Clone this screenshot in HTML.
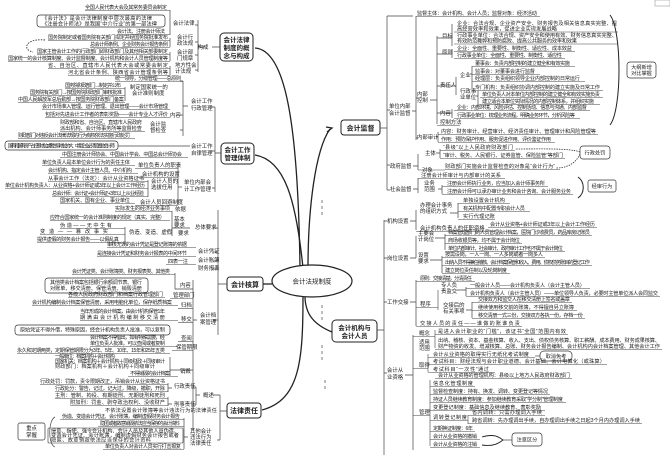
<!DOCTYPE html>
<html><head><meta charset="utf-8"><style>
html,body{margin:0;padding:0;background:#fff}
svg{display:block}
text{font-family:"Liberation Sans","Noto Sans CJK SC",sans-serif;fill:#222}
.t{font-size:5.2px}
.l{font-size:5.4px}
.b{font-size:7.5px;font-weight:bold}
.u{stroke:#444;stroke-width:0.6;fill:none}
.k{stroke:#222;stroke-width:1.3;fill:none}
.s{stroke:#444;stroke-width:0.7;fill:none}
</style></head><body>
<svg width="670" height="460" viewBox="0 0 670 460" xmlns="http://www.w3.org/2000/svg">
<rect x="0" y="0" width="670" height="460" fill="#fff"/>
<!-- main curves -->
<path class="k" d="M255 48 C285 50 298 120 300 268"/>
<path class="k" d="M255 155 C285 160 296 200 303 268"/>
<path class="k" d="M308 268 C308 210 315 150 330 129"/>
<path class="k" d="M326 127 L332 128 L327 132"/>
<path class="k" d="M263 284 L272 284"/>
<path class="k" d="M303 296 C303 360 300 400 262 410"/>
<path class="k" d="M305 296 C305 315 315 325 332 332"/>
<path class="s" d="M322 200 L322 215 M322 305 L322 320 M322 345 L322 360 M325 380 L325 392" stroke-dasharray="3 3"/>
<!-- center ellipse -->
<ellipse cx="312" cy="281" rx="40" ry="16" fill="#fff" stroke="#222" stroke-width="1.2"/>
<text class="l" x="312" y="283.5" text-anchor="middle" style="font-size:6.5px">会计法规制度</text>
<!-- main nodes -->
<g fill="#fff" stroke="#222" stroke-width="1">
<rect x="220" y="33" width="33" height="28" rx="4"/>
<rect x="221" y="143" width="33" height="21" rx="4"/>
<rect x="227" y="277" width="36" height="14" rx="3"/>
<rect x="227" y="403" width="34" height="15" rx="3"/>
<rect x="341" y="120" width="39" height="15" rx="3"/>
<rect x="332" y="320" width="45" height="22" rx="4"/>
</g>
<text class="b" x="236.5" y="42" text-anchor="middle" style="font-size:6.5px">会计法律</text>
<text class="b" x="236.5" y="50" text-anchor="middle" style="font-size:6.5px">制度的概</text>
<text class="b" x="236.5" y="58" text-anchor="middle" style="font-size:6.5px">念与构成</text>
<text class="b" x="237.5" y="152" text-anchor="middle" style="font-size:6.5px">会计工作</text>
<text class="b" x="237.5" y="160" text-anchor="middle" style="font-size:6.5px">管理体制</text>
<text class="b" x="245" y="287" text-anchor="middle" style="font-size:7px">会计核算</text>
<text class="b" x="244" y="413" text-anchor="middle" style="font-size:7px">法律责任</text>
<text class="b" x="360.5" y="130.5" text-anchor="middle" style="font-size:7px">会计监督</text>
<text class="b" x="354.5" y="330" text-anchor="middle" style="font-size:6.5px">会计机构与</text>
<text class="b" x="354.5" y="338" text-anchor="middle" style="font-size:6.5px">会计人员</text>

<!-- ============ LEFT TOP: 构成 ============ -->
<path class="s" d="M220 47 L212 47 M205 47 L198 47 M198 20 L198 72 M198 25 L195 25 M198 42 L195 42 M198 55 L195 55 M198 70 L195 70"/>
<text class="l" x="203" y="49" text-anchor="middle">构成</text>
<text class="l" x="173" y="25">会计法律</text>
<text class="l" x="177" y="39">会计行</text><text class="l" x="177" y="45">政法规</text>
<text class="l" x="177" y="54">会计部</text><text class="l" x="177" y="60">门规章</text>
<text class="l" x="175" y="67">地方性会</text><text class="l" x="175" y="73">计法规</text>
<path class="s" d="M170 10 L170 35 M170 38 L170 47 M170 52 L170 61 M170 66 L170 75"/>
<text class="t" x="85" y="9" textLength="82">全国人民代表大会及其常务委员会制定</text><path class="u" d="M85 10.5H170"/>
<rect x="37" y="15" width="128" height="12" rx="3" fill="none" stroke="#333" stroke-width="0.7"/>
<text class="t" x="42" y="20" textLength="110">《会计法》是会计法律制度中层次最高的法律</text>
<text class="t" x="42" y="25.5" textLength="115">《注册会计师法》是我国“中介行业”的第一部法律</text>
<text class="t" x="117" y="33" textLength="48">会计法、注册会计师法</text><path class="u" d="M117 34.5H170"/>
<text class="t" x="48" y="39" textLength="120">国务院制定或者国务院有关部门拟定并经国务院批准发布</text><path class="u" d="M48 40.5H170"/>
<text class="t" x="90" y="46" textLength="78">总会计师条例、企业财务会计报告条例</text><path class="u" d="M90 47.5H170"/>
<text class="t" x="37" y="53" textLength="131">国家主管会计工作的行政部门即财政部门及其他相关部委制定</text><path class="u" d="M37 54.5H170"/>
<text class="t" x="8" y="60" textLength="160">国家统一的会计核算制度、会计监督制度、会计机构和会计人员管理制度等</text><path class="u" d="M8 61.5H170"/>
<text class="t" x="48" y="67" textLength="120">省、自治区、直辖市人民代表大会或常委会制定</text><path class="u" d="M48 68.5H170"/>
<text class="t" x="68" y="74" textLength="100">河北省会计条例、陕西省会计管理条例等</text><path class="u" d="M68 75.5H170"/>
<path d="M45 40 C25 38 22 50 33 52" stroke="#333" stroke-width="0.9" fill="none" stroke-dasharray="1.5 1.2"/>

<!-- ============ 会计工作行政管理 ============ -->
<path class="s" d="M221 153 L215 153 M215 107 L215 192 M215 107 L212 107 M215 151 L212 151 M215 188 L212 188"/>
<text class="l" x="191" y="103">会计工作</text><text class="l" x="191" y="110">行政管理</text>
<path class="s" d="M188 106 L183 106 M183 81 L183 136 M183 81 L180 81 M183 115 L180 115 M183 130 L180 130"/>
<text class="t" x="115" y="80" textLength="66">统一领导，分级管理——总原则</text><path class="u" d="M115 81.5H183"/>
<text class="l" x="130" y="89">制定国家统一的</text><text class="l" x="132" y="95">会计准则制度</text>
<path class="s" d="M125 87 L125 101"/>
<text class="t" x="65" y="87" textLength="56">国务院财政部门→制定并公布</text><path class="u" d="M65 88.5H125"/>
<text class="t" x="30" y="94" textLength="92">国务院有关部门→按国务院财政部门审核批准</text><path class="u" d="M30 95.5H125"/>
<text class="t" x="18" y="101" textLength="106">中国人民解放军总后勤部→按国务院财政部门备案</text><path class="u" d="M18 102.5H125"/>
<text class="t" x="42" y="108" textLength="126">会计市场准入管理、运行管理、退出管理——会计市场管理</text><path class="u" d="M42 109.5H170"/>
<text class="t" x="45" y="116" textLength="123">包括对先进会计工作者的表彰奖励——会计专业人才评价</text><path class="u" d="M45 117.5H170"/>
<text class="l" x="170" y="117">内容</text>
<text class="t" x="60" y="124" textLength="82">财政部和省、自治区、直辖市人民政府</text>
<text class="t" x="60" y="130" textLength="82">派出机构、会计师事务所等监督检查</text><path class="u" d="M60 131.5H145"/>
<text class="l" x="150" y="126">会计监</text><text class="l" x="150" y="132">督检查</text>
<text class="t" x="18" y="137" textLength="112">财政部门对违反会计法律法规的行为有权依法实施行政处罚</text><path class="u" d="M18 138.5H135"/>
<text class="l" x="191" y="148">会计工作</text><text class="l" x="191" y="155">自律管理</text>
<rect x="5" y="141" width="113" height="9" rx="3" fill="none" stroke="#333" stroke-width="0.7"/>
<text class="t" x="8" y="147.5" textLength="107">国有和国有资产占控股地位或者主导地位的大、中型企业必须设置总会计师</text>
<path class="s" d="M118 146 L190 146"/>
<text class="t" x="62" y="156" textLength="120">中国注册会计师协会、中国会计学会、中国总会计师协会</text><path class="u" d="M60 157.5H188"/>
<!-- 单位内部会计工作管理 -->
<text class="l" x="184" y="184">单位内部会</text><text class="l" x="184" y="191">计工作管理</text>
<path class="s" d="M182 187 L178 187 M178 165 L178 205"/>
<text class="t" x="42" y="164" textLength="88">单位负责人是本单位会计行为的责任主体</text><path class="u" d="M42 165.5H135"/>
<text class="l" x="138" y="167">单位负责人的职责</text><path class="u" d="M135 168.5H178"/>
<text class="t" x="48" y="172" textLength="84">会计机构、指定会计主管人员、中介机构</text><path class="u" d="M48 173.5H138"/>
<text class="l" x="142" y="176">会计机构的设置</text><path class="u" d="M138 177.5H178"/>
<text class="t" x="48" y="180" textLength="96">从事会计工作（法定）：会计从业资格证书</text><path class="u" d="M48 181.5H148"/>
<text class="t" x="5" y="187" textLength="140">单位会计机构负责人：从业资格+会计师证或3年以上会计工作经历</text><path class="u" d="M5 188.5H148"/>
<text class="t" x="52" y="195" textLength="92">总会计师：会计证+会计师证+3年以上从业经验</text><path class="u" d="M52 196.5H148"/>
<text class="l" x="151" y="183">会计人员的</text><text class="l" x="151" y="189">选拔任用</text><path class="s" d="M148 180 L148 197"/>
<text class="t" x="60" y="202" textLength="70">国家机关、国有企业、事业单位</text><path class="u" d="M60 203.5H135"/>
<text class="l" x="140" y="204">会计人员回避制度</text><path class="u" d="M135 205.5H178"/>

<!-- ============ 会计核算 ============ -->
<path class="s" d="M227 284 L218 284 M218 210 L218 335 M218 228 L213 228 M218 252 L213 252 M218 261 L213 261 M218 269 L213 269 M218 320 L213 320"/>
<text class="l" x="195" y="229">总体要求</text>
<text class="l" x="175" y="211">依据</text>
<text class="l" x="174" y="221">基本</text><text class="l" x="174" y="227">要求</text>
<text class="l" x="178" y="235">要求</text>
<path class="s" d="M172 211 L172 236 M190 228 L172 228"/>
<text class="t" x="115" y="210" textLength="55">实际发生的经济业务事项</text><path class="u" d="M115 211.5H172"/>
<text class="t" x="50" y="219" textLength="115">应符合国家统一的会计准则制度的规定（真实、完整）</text><path class="u" d="M50 220.5H170"/>
<text class="t" x="60" y="227" textLength="52">伪造——无中生有</text><path class="u" d="M60 228.5H125"/>
<text class="t" x="40" y="233" textLength="68">变造——篡改事实</text><path class="u" d="M40 234.5H125"/>
<text class="t" x="37" y="241" textLength="82">提供虚假的财务会计报告——以假乱真</text><path class="u" d="M37 242.5H125"/>
<text class="l" x="129" y="234">伪造、变造、虚假</text><path class="s" d="M125 227 L125 243"/>
<text class="t" x="107" y="246" textLength="80">审核无误的会计凭证是登记账簿的依据</text><path class="u" d="M107 247.5H196"/>
<text class="l" x="198" y="253">会计凭证</text>
<text class="t" x="97" y="255" textLength="90">是连接会计凭证和财务会计报表的中间环节</text><path class="u" d="M97 256.5H196"/>
<text class="l" x="198" y="262">会计账簿</text>
<text class="t" x="168" y="263" textLength="20">四表一注</text><path class="u" d="M166 264.5H196"/>
<text class="l" x="198" y="270">财务报表</text>
<text class="l" x="200" y="317">会计档</text><text class="l" x="200" y="324">案管理</text>
<path class="s" d="M197 320 L193 320 M193 280 L193 430"/>
<text class="t" x="72" y="273" textLength="98">会计凭证类、会计账簿类、财务报表类、其他类</text><path class="u" d="M72 274.5H175"/>
<rect x="45" y="278" width="103" height="15" rx="3" fill="none" stroke="#333" stroke-width="0.7"/>
<text class="t" x="50" y="284" textLength="92">其他类会计档案包括银行余额调节表、银行</text>
<text class="t" x="50" y="290" textLength="92">对账单、移交清册、保管清册、销毁清册</text>
<text class="l" x="180" y="287">内容</text><path class="s" d="M175 273 L175 289 L193 289"/>
<text class="l" x="173" y="297">管理部门</text><path class="u" d="M170 298.5H193"/>
<text class="t" x="68" y="296" textLength="95">各级人民政府财政部门和档案行政管理部门</text><path class="u" d="M68 297.5H165"/>
<text class="t" x="32" y="304" textLength="140">会计机构编制会计档案保管清册，采用电脑化单位，保存纸质档案</text><path class="u" d="M32 305.5H178"/>
<text class="l" x="181" y="307">归档</text><path class="u" d="M178 308.5H193"/>
<text class="t" x="80" y="313" textLength="85">当年形成的会计档案，由会计机构保管1年</text>
<text class="t" x="80" y="319" textLength="85">期满由会计机构编制移交清册</text><path class="u" d="M80 320.5H178"/>
<text class="l" x="181" y="321">移交</text><path class="u" d="M178 322.5H193"/>
<rect x="15" y="325" width="155" height="10" rx="3" fill="none" stroke="#333" stroke-width="0.7"/>
<text class="t" x="20" y="331.5" textLength="145">原始凭证不得外借，特殊原因，经会计机构负责人批准，可以复制</text>
<text class="t" x="90" y="339" textLength="75">会计档案不得借出，如有特殊需要，经</text>
<text class="t" x="90" y="345" textLength="75">单位负责人批准，可以查阅或者复制</text><path class="u" d="M90 346.5H178"/>
<text class="l" x="181" y="340">查阅</text><path class="u" d="M178 341.5H193"/>
<text class="l" x="176" y="349">保管期限</text><path class="u" d="M172 350.5H193"/>
<text class="t" x="17" y="352" textLength="148">永久和定期两类，定期保管期限分为3年、5年、10年、15年和25年五类</text><path class="u" d="M17 353.5H170"/>
<text class="t" x="55" y="358" textLength="60">一般单位：档案机构＋会计机构</text>
<text class="t" x="55" y="363" textLength="110">国家机关：档案机构＋会计机构＋同级财政＋同级审计</text>
<text class="t" x="55" y="368" textLength="100">财政部门：档案机构＋会计机构＋同级审计</text>
<text class="l" x="180" y="373">销毁</text><path class="s" d="M170 357 L170 376 M170 370 L193 370"/>
<text class="t" x="130" y="375" textLength="40">不得销毁的会计档案</text><path class="u" d="M128 376.5H178"/>

<!-- ============ 法律责任 ============ -->
<path class="s" d="M227 411 L220 411 M220 395 L220 440 M220 395 L213 395 M220 440 L217 440"/>
<text class="l" x="203" y="397">概述</text>
<path class="s" d="M200 395 L196 395 M196 387 L196 405 M196 387 L192 387 M196 405 L192 405"/>
<text class="l" x="174" y="388">行政责任</text><path class="s" d="M168 383 L168 392 M168 388 L172 388"/>
<text class="l" x="174" y="406">刑事责任</text><path class="s" d="M168 397 L168 406 M168 404 L172 404"/>
<text class="t" x="40" y="383" textLength="125">行政处罚：罚款，责令限期改正，吊销会计从业资格证书</text><path class="u" d="M40 384.5H168"/>
<text class="t" x="55" y="390" textLength="110">行政处分：警告，记过，记大过，降级，撤职，开除</text><path class="u" d="M55 391.5H168"/>
<text class="t" x="55" y="397" textLength="110">主刑：管制、拘役、有期徒刑、无期徒刑和死刑</text><path class="u" d="M55 398.5H168"/>
<text class="t" x="70" y="404" textLength="95">附加刑：罚金、剥夺政治权利、没收财产</text><path class="u" d="M70 405.5H168"/>
<text class="t" x="105" y="412" textLength="112">不依法设置会计账簿等会计违法行为的法律责任</text>
<text class="l" x="190" y="433">其他会计</text><text class="l" x="190" y="439">违法行为</text><text class="l" x="190" y="445">法律责任</text>
<path class="s" d="M188 437 L184 437 M184 418 L184 449"/>
<text class="t" x="62" y="418" textLength="118">伪造、变造会计凭证、会计账簿，编制虚假财务会计报告</text><path class="u" d="M60 419.5H184"/>
<text class="t" x="100" y="425" textLength="80">隐匿或者故意销毁依法应当保存的会计资料</text><path class="u" d="M98 426.5H184"/>
<rect x="48" y="428" width="135" height="15" rx="1" fill="none" stroke="#333" stroke-width="0.6"/>
<text class="t" x="51" y="432.5" textLength="128">授意、指使、强令会计机构、会计人员及其他人员伪造、</text>
<text class="t" x="51" y="437" textLength="128">变造会计凭证、会计账簿，编制虚假财务会计报告或者</text>
<text class="t" x="51" y="441.5" textLength="100">隐匿、故意销毁依法应当保存的会计资料</text>
<text class="t" x="105" y="448" textLength="76">单位负责人对会计人员实行打击报复</text><path class="u" d="M103 449.5H184"/>
<rect x="18" y="423" width="27" height="17" rx="2" fill="#fff" stroke="#333" stroke-width="0.7"/>
<text class="l" x="31.5" y="430" text-anchor="middle">重点</text><text class="l" x="31.5" y="437" text-anchor="middle">掌握</text>
<path class="s" d="M55 417 C48 420 48 445 55 447" stroke-width="1"/>

<!-- ============ 会计监督 (right) ============ -->
<path class="s" d="M380 128 L387 128 M387 16 L387 190 M387 16 L413 16 M387 110 L390 110 M387 165 L390 165 M387 190 L390 190"/>
<text class="l" x="389" y="108">单位内部</text><text class="l" x="389" y="115">会计监督</text>
<path class="s" d="M412 111 L416 111 M416 16 L416 140 M416 98 L418 98 M416 138 L418 138"/>
<text class="t" x="417" y="15" textLength="120">监督主体：会计机构、会计人员；监督对象：经济活动</text><path class="u" d="M416 16.5H540"/>
<text class="l" x="417" y="96">内部</text><text class="l" x="417" y="102">控制</text>
<path class="s" d="M430 100 L437 100 M437 36 L437 124"/>
<text class="l" x="442" y="38">目标</text><path class="s" d="M437 38 L452 38 M452 24 L452 46"/>
<text class="t" x="457" y="25" textLength="160">企业：合法合规、企业资产安全、财务报告及相关信息真实完整、提</text>
<text class="t" x="457" y="30.5" textLength="100">高经营效率和效果，促进企业实现发展战略</text><path class="u" d="M454 32H618"/>
<text class="t" x="457" y="37" textLength="160">行政事业单位：合法合规、资产安全和使用有效、财务信息真实完整、</text>
<text class="t" x="457" y="42.5" textLength="120">有效防范舞弊和预防腐败、提高公共服务的效率和效果</text><path class="u" d="M454 44H618"/>
<text class="l" x="442" y="54">原则</text><path class="s" d="M437 54 L452 54 M452 49 L452 58"/>
<text class="t" x="457" y="50" textLength="115">企业：全面性、重要性、制衡性、适应性、成本效益</text><path class="u" d="M454 51.5H575"/>
<text class="t" x="457" y="57" textLength="105">行政事业单位：全面性、重要性、制衡性、适应性</text><path class="u" d="M454 58.5H565"/>
<text class="l" x="440" y="87">责任人</text><path class="s" d="M437 86 L456 86 M456 77 L456 95"/>
<text class="l" x="460" y="77">企业</text><path class="s" d="M470 74 L472 74 M472 66 L472 88"/>
<text class="l" x="460" y="93">行政事</text><text class="l" x="460" y="99">业单位</text><path class="s" d="M476 96 L478 96 M478 91 L478 106"/>
<text class="t" x="475" y="65" textLength="95">董事会：负责内部控制的建立健全和有效实施</text><path class="u" d="M472 66.5H575"/>
<text class="t" x="475" y="73" textLength="60">监事会：对董事会进行监督</text><path class="u" d="M472 74.5H540"/>
<text class="t" x="475" y="80" textLength="105">经理层：负责组织领导企业内部控制的日常运行</text><path class="u" d="M472 81.5H585"/>
<text class="t" x="475" y="89" textLength="125">专门机构：负责组织协调内部控制的建立实施及日常工作</text><path class="u" d="M472 90.5H603"/>
<text class="t" x="482" y="96" textLength="118">单位负责人对本单位内部控制的建立健全和有效实施负责</text><path class="u" d="M480 97.5H603"/>
<text class="t" x="482" y="103" textLength="112">建立适合本单位实际情况的内部控制体系，并组织实施</text><path class="u" d="M480 104.5H600"/>
<text class="l" x="440" y="115">内容</text><path class="s" d="M437 113 L452 113 M452 109 L452 118"/>
<text class="t" x="457" y="109" textLength="130">企业：内部环境、风险评估、控制活动、信息与沟通、内部监督</text><path class="u" d="M454 110.5H590"/>
<text class="t" x="457" y="117" textLength="118">行政事业单位：梳理业务流程，明确业务环节，分析风险等</text><path class="u" d="M454 118.5H580"/>
<text class="l" x="440" y="124">控制方法</text><path class="u" d="M437 125.5H460"/>
<text class="l" x="417" y="139">内部审计</text><path class="s" d="M436 137 L438 137 M438 132 L438 142"/>
<text class="t" x="441" y="133" textLength="155">内容：财务审计、经营审计、经济责任审计、管理审计和风险管理等</text><path class="u" d="M438 134.5H598"/>
<text class="t" x="441" y="141" textLength="110">作用：预防保护作用、服务促进作用、评价鉴证作用</text><path class="u" d="M438 142.5H555"/>
<path d="M610 15 C622 30 622 110 610 125" stroke="#222" stroke-width="1" fill="none"/>
<rect x="627" y="62" width="29" height="16" rx="3" fill="#fff" stroke="#333" stroke-width="0.7"/>
<text class="t" x="641.5" y="69" text-anchor="middle">大纲新增</text><text class="t" x="641.5" y="75" text-anchor="middle">对比掌握</text>
<!-- 政府监督 -->
<text class="l" x="390" y="168">政府监督</text><path class="s" d="M413 166 L418 166 M418 154 L418 170"/>
<text class="l" x="425" y="155">主体</text><path class="s" d="M436 153 L440 153 M440 149 L440 158"/>
<text class="l" x="422" y="172">对象</text><path class="u" d="M418 170H445"/>
<text class="t" x="443" y="149" textLength="70">“县级”以上人民政府财政部门</text><path class="u" d="M440 150.5H515"/>
<text class="t" x="443" y="157" textLength="120">“审计、税务、人民银行、证券监管、保险监管”等部门</text><path class="u" d="M440 158.5H565"/>
<text class="t" x="445" y="168" textLength="110">财政部门实施会计监督检查的对象是“会计行为”</text><path class="u" d="M445 169.5H560"/>
<rect x="580" y="146" width="30" height="13" rx="3" fill="#fff" stroke="#333" stroke-width="0.7"/>
<text class="t" x="595" y="154.5" text-anchor="middle">行政处罚</text>
<path d="M580 152 C570 148 540 149 515 149" stroke="#333" stroke-width="0.8" fill="none" stroke-dasharray="1.5 1"/>
<path d="M580 154 C575 165 565 168 556 168" stroke="#333" stroke-width="0.8" fill="none" stroke-dasharray="1.5 1"/>
<!-- 社会监督 -->
<text class="l" x="390" y="191">社会监督</text><path class="s" d="M413 189 L418 189 M418 178 L418 193"/>
<text class="t" x="421" y="177" textLength="80">注册会计师审计与内部审计的关系</text><path class="u" d="M418 178.5H505"/>
<text class="l" x="424" y="185">业务</text><text class="l" x="424" y="191">范围</text><path class="s" d="M438 189 L442 189 M442 185 L442 194"/>
<text class="t" x="447" y="185" textLength="98">注册会计师执行业务，应当加入会计师事务所</text><path class="u" d="M442 186.5H548"/>
<text class="t" x="447" y="193" textLength="124">注册会计师可以承办审计业务和会计咨询、会计服务业务</text><path class="u" d="M442 194.5H573"/>
<path d="M578 177 C585 182 585 193 578 198" stroke="#222" stroke-width="1" fill="none"/>
<rect x="588" y="180" width="28" height="12" rx="2" fill="#fff" stroke="#333" stroke-width="0.7"/>
<text class="t" x="602" y="188" text-anchor="middle">经审行为</text>

<!-- ============ 会计机构与会计人员 ============ -->
<path class="s" d="M377 330 L384 330 M384 220 L384 455 M384 221 L387 221 M384 258 L387 258 M384 302 L387 302 M384 373 L387 373"/>
<text class="l" x="387" y="223">机构设置</text><path class="s" d="M410 221 L416 221 M416 210 L416 230"/>
<text class="l" x="420" y="207">办理会计事务</text><text class="l" x="420" y="213">的组织方式</text><path class="s" d="M450 213 L458 213 M458 203 L458 218"/>
<text class="t" x="463" y="202" textLength="42">单独设置会计机构</text><path class="u" d="M458 203.5H510"/>
<text class="t" x="463" y="210" textLength="62">有关机构中配置专职会计人员</text><path class="u" d="M458 211.5H530"/>
<text class="t" x="463" y="218" textLength="32">实行代理记账</text><path class="u" d="M458 219.5H495"/>
<text class="l" x="420" y="230">会计机构负责人的任职资格</text><path class="u" d="M416 231.5H488"/>
<text class="t" x="490" y="226" textLength="105">会计从业资格+会计师证或3年以上会计工作经历</text><path class="u" d="M488 227.5H597"/>
<text class="l" x="387" y="260">岗位设置</text><path class="s" d="M410 258 L416 258 M416 236 L416 258"/>
<text class="l" x="418" y="235">主要会</text><text class="l" x="418" y="241">计岗位</text><path class="s" d="M435 238 L445 238 M445 234 L445 250"/>
<text class="t" x="448" y="234" textLength="142">档案管理部门的人员管理会计档案，医院门诊收费员，药品库房记账员</text><path class="u" d="M445 235.5H592"/>
<text class="t" x="448" y="242" textLength="72">商场收银员等，均不属于会计岗位</text><path class="u" d="M445 243.5H522"/>
<text class="t" x="448" y="250" textLength="115">单位内部审计、社会审计、政府审计工作也不属于会计岗位</text><path class="u" d="M445 251.5H565"/>
<text class="l" x="418" y="257">设置</text><text class="l" x="418" y="263">要求</text><path class="s" d="M430 260 L442 260 M442 256 L442 273"/>
<text class="t" x="445" y="256" textLength="98">按需设岗，一人一岗、一人多岗或者一岗多人</text><path class="u" d="M442 257.5H545"/>
<text class="t" x="445" y="264" textLength="145">出纳人员不得兼任稽核、会计档案保管和收入、费用、债权债务账目的登记工作</text><path class="u" d="M442 265.5H592"/>
<text class="t" x="445" y="272" textLength="62">建立岗位责任制以及轮岗制度</text><path class="u" d="M442 273.5H510"/>
<text class="l" x="387" y="304">工作交接</text><path class="s" d="M410 302 L416 302 M416 280 L416 326"/>
<text class="t" x="420" y="280" textLength="52">原则：交接清楚，分清责任</text><path class="u" d="M416 281.5H475"/>
<text class="l" x="420" y="306">程序</text><path class="u" d="M416 307.5H438 M438 290 L438 310"/>
<text class="l" x="441" y="287">专人负</text><text class="l" x="441" y="293">责监交</text><path class="s" d="M457 290 L466 290 M466 287 L466 296"/>
<text class="t" x="470" y="287" textLength="115">一般会计人员——会计机构负责人（会计主管人员）</text><path class="u" d="M466 288.5H590"/>
<text class="t" x="470" y="295" textLength="188">会计机构负责人（会计主管人员）——单位领导人负责，必要时主管单位派人会同监交</text><path class="u" d="M466 296.5H660"/>
<text class="l" x="443" y="307">交接后的</text><text class="l" x="443" y="313">有关事项</text><path class="s" d="M466 310 L472 310 M472 302 L472 318"/>
<text class="t" x="478" y="301" textLength="92">交接双方和监交人在移交清册上签名或盖章</text><path class="u" d="M472 302.5H572"/>
<text class="t" x="478" y="309" textLength="96">继续使用移交前的账簿，不得擅自另立账簿</text><path class="u" d="M472 310.5H577"/>
<text class="t" x="478" y="317" textLength="105">移交清册一式三份，交接双方各执一份，存档一份</text><path class="u" d="M472 318.5H585"/>
<text class="t" x="420" y="325" textLength="100">交接人员的责任——谁做的账谁负责</text><path class="u" d="M416 326.5H522"/>
<text class="l" x="387" y="372">会计从</text><text class="l" x="387" y="379">业资格</text><path class="s" d="M405 375 L413 375 M413 335 L413 450"/>
<text class="l" x="419" y="335">概念</text><path class="u" d="M413 336.5H435 M435 330 L435 348"/>
<text class="t" x="438" y="333" textLength="128">是进入会计职业的“门槛”，该证书“全国”范围内有效</text><path class="u" d="M435 334.5H568"/>
<text class="l" x="419" y="344">适用</text><text class="l" x="419" y="350">范围</text>
<text class="t" x="438" y="342" textLength="222">出纳、稽核、资本、基金核算、收入、支出、债权债务核算、职工薪酬、成本费用、财务成果核算、</text>
<text class="t" x="438" y="348" textLength="222">财产物资的收发、增减核算、总账、财务会计报告编制、会计机构内会计档案管理、其他会计工作</text><path class="u" d="M435 349.5H662"/>
<text class="l" x="419" y="367">取得</text><path class="u" d="M413 368.5H428 M428 354 L428 372"/>
<text class="t" x="433" y="356" textLength="96">会计从业资格的取得实行无纸化考试制度</text><path class="u" d="M428 357.5H535"/>
<path class="s" d="M535 356 L540 356"/>
<rect x="540" y="351" width="32" height="10" rx="4" fill="#fff" stroke="#333" stroke-width="0.7"/>
<text class="t" x="556" y="358" text-anchor="middle">取消免考</text>
<text class="t" x="433" y="363" textLength="172">考试科目：财经法规与会计职业道德、会计基础、会计电算化（或珠算）</text><path class="u" d="M428 364.5H607"/>
<text class="t" x="433" y="371" textLength="56">考试科目“一次性”通过</text><path class="u" d="M428 372.5H495"/>
<text class="t" x="438" y="377" textLength="132">会计从业资格的管理机构：县级以上地方人民政府财政部门</text><path class="u" d="M435 378.5H572"/>
<text class="l" x="419" y="414">管理</text><path class="u" d="M413 415.5H430 M430 380 L430 446"/>
<text class="t" x="433" y="385" textLength="40">信息化管理制度</text><path class="u" d="M430 386.5H475"/>
<text class="t" x="433" y="393" textLength="115">监督检查制度：持有、换发、调转、变更登记等情况</text><path class="u" d="M430 394.5H550"/>
<text class="t" x="433" y="401" textLength="130">持证人员继续教育制度：参加继续教育采取“学分制”管理制度</text><path class="u" d="M430 402.5H566"/>
<text class="t" x="433" y="409" textLength="108">变更登记制度：基础信息及继续教育、表彰奖励</text><path class="u" d="M430 410.5H545"/>
<text class="t" x="433" y="419" textLength="34">调转登记制度</text><path class="u" d="M430 420.5H468 M468 415 L468 424"/>
<text class="t" x="472" y="414" textLength="70">省内调转：只需办理调入手续</text><path class="u" d="M468 415.5H545"/>
<text class="t" x="472" y="422" textLength="168">跨省调转：先办理调出手续，自办理调出手续之日起3个月内办理调入手续</text><path class="u" d="M468 423.5H642"/>
<text class="t" x="433" y="430" textLength="40">定期换证制度：6年</text><path class="u" d="M430 431.5H475"/>
<text class="t" x="433" y="438" textLength="44">会计从业资格的撤销</text><path class="u" d="M430 439.5H480"/>
<text class="t" x="433" y="446" textLength="44">会计从业资格的注销</text><path class="u" d="M430 447.5H480"/>
<path d="M482 437 C495 433 500 438 503 440 C500 442 495 447 482 445" stroke="#222" stroke-width="0.9" fill="none"/>
<path class="s" d="M503 440 L512 440"/>
<rect x="512" y="433" width="30" height="13" rx="3" fill="#fff" stroke="#333" stroke-width="0.7"/>
<text class="t" x="527" y="441.5" text-anchor="middle">注意区分</text>
<rect x="655" y="0" width="15" height="6" fill="none" stroke="#999" stroke-width="0.6"/>
</svg>
</body></html>
